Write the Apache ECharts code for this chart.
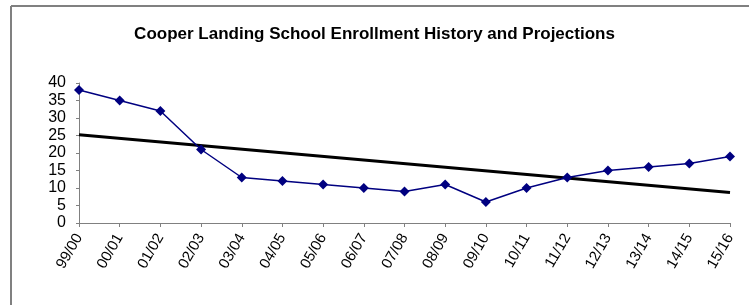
<!DOCTYPE html>
<html>
<head>
<meta charset="utf-8">
<script src="https://cdn.jsdelivr.net/npm/echarts@6/dist/echarts.min.js"></script>
<style>
  html, body { margin: 0; padding: 0; background: #fff; }
  #chart { width: 749px; height: 305px; }
</style>
</head>
<body>
<div id="chart"></div>
<script>
const years = ['99/00', '00/01', '01/02', '02/03', '03/04', '04/05', '05/06', '06/07', '07/08',
    '08/09', '09/10', '10/11', '11/12', '12/13', '13/14', '14/15', '15/16']
const enrollment = [38, 35, 32, 21, 13, 12, 11, 10, 9, 11, 6, 10, 13, 15, 16, 17, 19]
// trend line ends
const trendStart = 25.2
const trendEnd = 8.7

const chart = echarts.init(document.getElementById('chart'))
chart.setOption({
    animation: false,
    textStyle: { fontFamily: 'Liberation Sans, Arial, sans-serif' },
    title: {
        text: 'Cooper Landing School Enrollment History and Projections',
        left: 'center',
        top: 21,
        textStyle: { fontSize: 17, fontWeight: 'bold', color: '#000' }
    },
    graphic: [
        { type: 'line', shape: { x1: 11, y1: 6, x2: 760, y2: 6 }, style: { stroke: '#808080', lineWidth: 2 } },
        { type: 'line', shape: { x1: 11, y1: 6, x2: 11, y2: 320 }, style: { stroke: '#808080', lineWidth: 2 } }
    ],
    grid: { left: 79, right: 19, top: 83, bottom: 82 },
    xAxis: {
        type: 'category',
        data: years,
        boundaryGap: false,
        axisLine: { lineStyle: { color: '#808080', width: 1 } },
        axisTick: { show: true, length: 4, alignWithLabel: true, lineStyle: { color: '#808080' } },
        axisLabel: { rotate: 60, interval: 0, color: '#000', fontSize: 15, margin: 12 }
    },
    yAxis: {
        type: 'value',
        min: 0,
        max: 40,
        interval: 5,
        splitLine: { show: false },
        axisLine: { show: true, lineStyle: { color: '#808080', width: 1 } },
        axisTick: { show: true, length: 3, lineStyle: { color: '#808080' } },
        axisLabel: { color: '#000', fontSize: 16, margin: 13 }
    },
    series: [
        {
            type: 'line',
            data: enrollment,
            symbol: 'diamond',
            symbolSize: 10,
            lineStyle: { color: '#000080', width: 1.5 },
            itemStyle: { color: '#000080' },
            z: 3
        },
        {
            type: 'line',
            data: [[0, trendStart], [years.length - 1, trendEnd]],
            symbol: 'none',
            lineStyle: { color: '#000', width: 3 },
            z: 2
        }
    ]
})
</script>
</body>
</html>
